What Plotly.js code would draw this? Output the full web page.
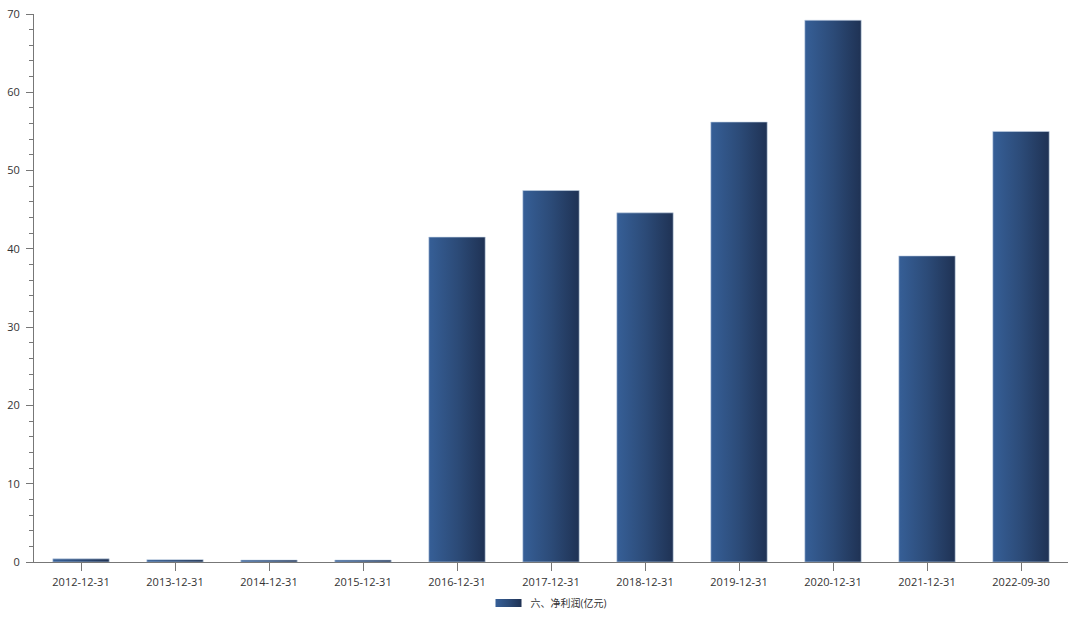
<!DOCTYPE html>
<html><head><meta charset="utf-8">
<script src="https://cdn.plot.ly/plotly-3.0.1.min.js"></script>
<style>html,body{margin:0;padding:0;background:#fff}#chart{width:1080px;height:621px}</style>
</head><body><div id="chart"></div>
<script>
const categories = ["2012-12-31","2013-12-31","2014-12-31","2015-12-31","2016-12-31","2017-12-31","2018-12-31","2019-12-31","2020-12-31","2021-12-31","2022-09-30"];
const netProfit = [0.4, 0.3, 0.25, 0.25, 41.5, 47.45, 44.6, 56.2, 69.2, 39.1, 55.0];
const seriesName = "六、净利润(亿元)";

const trace = {
  type: 'bar', x: categories, y: netProfit, name: seriesName,
  marker: {color: '#2b4a76', line: {width: 0.6, color: '#c5d3e6'}},
  showlegend: true, hoverinfo: 'x+y'
};
const layout = {
  width: 1080, height: 621,
  margin: {l: 34, r: 12, t: 14, b: 59, autoexpand: false},
  paper_bgcolor: '#fff', plot_bgcolor: '#fff',
  font: {family: 'Open Sans, "Noto Sans CJK SC", sans-serif', size: 11, color: '#333'},
  bargap: 0.4,
  xaxis: {type: 'category', showline: true, linecolor: '#777', linewidth: 1,
    ticks: 'outside', ticklen: 8, tickcolor: '#777', showgrid: false, zeroline: false,
    ticklabelstandoff: 2,
    tickfont: {size: 11, color: '#333'}, automargin: false},
  yaxis: {range: [0, 70], showline: true, linecolor: '#777', linewidth: 1,
    ticks: 'outside', ticklen: 7, tickcolor: '#777', dtick: 10, showgrid: false, zeroline: false,
    ticklabelstandoff: 4,
    tickfont: {size: 11, color: '#333'}, automargin: false,
    minor: {dtick: 2, ticks: 'outside', ticklen: 4, tickcolor: '#777', showgrid: false}},
  showlegend: true,
  legend: {orientation: 'h', x: 0.5, xanchor: 'center', yref: 'container', y: 0.029, yanchor: 'middle',
    font: {size: 10, color: '#333'}}
};
Plotly.newPlot('chart', [trace], layout, {displayModeBar: false, staticPlot: true}).then(gd => {
  const svg = gd.querySelector('svg.main-svg');
  const ns = 'http://www.w3.org/2000/svg';
  let defs = svg.querySelector('defs');
  if (!defs) { defs = document.createElementNS(ns, 'defs'); svg.insertBefore(defs, svg.firstChild); }
  const g = document.createElementNS(ns, 'linearGradient');
  g.setAttribute('id', 'barGrad'); g.setAttribute('x1', '0'); g.setAttribute('y1', '0');
  g.setAttribute('x2', '1'); g.setAttribute('y2', '0');
  [['0', '#365f97'], ['0.5', '#2c4b78'], ['1', '#1f3254']].forEach(([o, c]) => {
    const s = document.createElementNS(ns, 'stop'); s.setAttribute('offset', o); s.setAttribute('stop-color', c); g.appendChild(s);
  });
  defs.appendChild(g);
  gd.querySelectorAll('.trace.bars .point path').forEach(p => { p.style.fill = 'url(#barGrad)'; });
  gd.querySelectorAll('.legend .legendpoints path').forEach(p => {
    p.setAttribute('d', 'M-15,-4H11V4H-15Z'); p.style.fill = 'url(#barGrad)'; p.style.stroke = 'none';
  });
});
</script></body></html>
